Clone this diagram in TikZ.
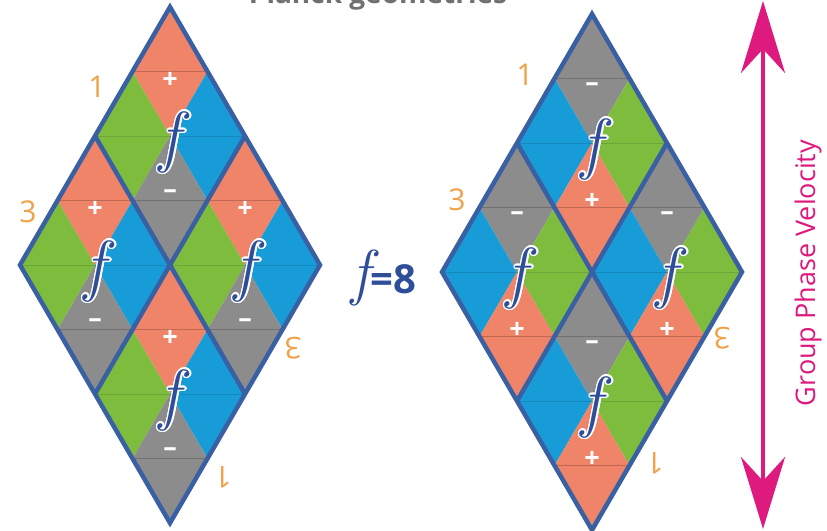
\documentclass[tikz,border=0pt]{standalone}
\usepackage{fontspec}
\setsansfont{Open Sans}
\usepackage[copies]{contour}
\usetikzlibrary{arrows.meta}
\definecolor{cellorange}{RGB}{240,132,104}
\definecolor{cellgreen}{RGB}{126,188,62}
\definecolor{cellblue}{RGB}{24,156,216}
\definecolor{cellgrey}{RGB}{140,140,140}
\definecolor{rimblue}{RGB}{58,96,164}
\definecolor{numorange}{RGB}{240,162,72}
\definecolor{arrowpink}{RGB}{222,26,126}
\definecolor{fblue}{RGB}{46,78,154}
\definecolor{titlegrey}{RGB}{112,112,112}

\contourlength{1.6pt}

\tikzset{
  rim/.style={rimblue, line width=4.5pt, line join=miter},
  splitline/.style={line width=0.7pt},
  sign/.style={text=white, font=\sffamily\bfseries\fontsize{27}{27}\selectfont, inner sep=0pt},
  fsym/.style={text=fblue, font=\rmfamily\itshape\fontsize{68}{68}\selectfont, inner sep=0pt},
  numlabel/.style={text=numorange, font=\sffamily\fontsize{30}{30}\selectfont, inner sep=0pt},
}

% one rhomb of four cells: name, centre x, centre y,
% top, left, right, bottom colour, top sign, bottom sign
\newcommand{\medrhomb}[9]{%
  \begin{scope}[shift={(#2,#3)}]
    \fill[#4] (0,129) -- (-37.5,64.5) -- (0,0) -- (37.5,64.5) -- cycle;
    \fill[#5] (-37.5,64.5) -- (-75,0) -- (-37.5,-64.5) -- (0,0) -- cycle;
    \fill[#6] (37.5,64.5) -- (0,0) -- (37.5,-64.5) -- (75,0) -- cycle;
    \fill[#7] (0,0) -- (-37.5,-64.5) -- (0,-129) -- (37.5,-64.5) -- cycle;
    \draw[splitline, #4!80!black] (-37.5,64.5) -- (37.5,64.5);
    \draw[splitline, #5!88!black] (-75,0) -- (0,0);
    \draw[splitline, #6!88!black] (0,0) -- (75,0);
    \draw[splitline, #7!80!black] (-37.5,-64.5) -- (37.5,-64.5);
    \node[sign] (#1-top) at (0,56) {#8};
    \node[sign] (#1-bot) at (0,-58) {#9};
    \node[fsym] (#1-f) at (0,-7) {\contour{white}{f}};
  \end{scope}}

\begin{document}
\begin{tikzpicture}[x=1pt, y=1pt]
    \useasboundingbox (0,0) rectangle (827,530);
    \fill[white] (0,0) rectangle (827,530);

    % Title, cut by the top edge
    \node[anchor=base, text=titlegrey, font=\sffamily\bfseries\fontsize{28}{28}\selectfont]
        (title) at (378,526) {Planck geometries};

    % Left diamond
    \medrhomb{lt}{170}{394}{cellorange}{cellgreen}{cellblue}{cellgrey}{+}{--}
    \medrhomb{ll}{95}{265}{cellorange}{cellgreen}{cellblue}{cellgrey}{+}{--}
    \medrhomb{lr}{245}{265}{cellorange}{cellgreen}{cellblue}{cellgrey}{+}{--}
    \medrhomb{lb}{170}{136}{cellorange}{cellgreen}{cellblue}{cellgrey}{+}{--}
    \draw[rim] (170,523) -- (20,265) -- (170,7) -- (320,265) -- cycle;
    \draw[rim] (95,394) -- (245,136);
    \draw[rim] (245,394) -- (95,136);

    % Right diamond
    \medrhomb{rt}{592}{387}{cellgrey}{cellblue}{cellgreen}{cellorange}{--}{+}
    \medrhomb{rl}{517}{258}{cellgrey}{cellblue}{cellgreen}{cellorange}{--}{+}
    \medrhomb{rr}{667}{258}{cellgrey}{cellblue}{cellgreen}{cellorange}{--}{+}
    \medrhomb{rb}{592}{129}{cellgrey}{cellblue}{cellgreen}{cellorange}{--}{+}
    \draw[rim] (592,516) -- (442,258) -- (592,0) -- (742,258) -- cycle;
    \draw[rim] (517,387) -- (667,129);
    \draw[rim] (667,387) -- (517,129);

    % Edge numbers
    \node[numlabel] (l1) at (97,443) {1};
    \node[numlabel] (l3) at (28,318) {3};
    \node[numlabel, rotate=180] (l3r) at (293,182) {3};
    \node[numlabel, rotate=180] (l1r) at (223,53) {1};
    \node[numlabel] (r1) at (525,455) {1};
    \node[numlabel] (r3) at (457,330) {3};
    \node[numlabel, rotate=180] (r3r) at (722,192) {3};
    \node[numlabel, rotate=180] (r1r) at (655,67) {1};

    % f = 8 between the two
    \node[inner sep=0pt, text=fblue] (feq) at (384,251)
        {{\rmfamily\itshape\fontsize{62}{62}\selectfont\contour{white}{f}}%
         {\sffamily\bfseries\fontsize{40}{40}\selectfont =8}};

    % Velocity arrow
    \coordinate (vtop) at (763,529);
    \coordinate (vbot) at (763,1);
    \draw[arrowpink, line width=4.5pt,
          {Stealth[length=72pt, width=44pt, inset=24pt]}-{Stealth[length=72pt, width=44pt, inset=24pt]}]
        (vbot) -- (vtop);
    \node[rotate=90, text=arrowpink, font=\sffamily\fontsize{27}{27}\selectfont]
        (gpv) at (808,257) {Group Phase Velocity};

\end{tikzpicture}
\end{document}
